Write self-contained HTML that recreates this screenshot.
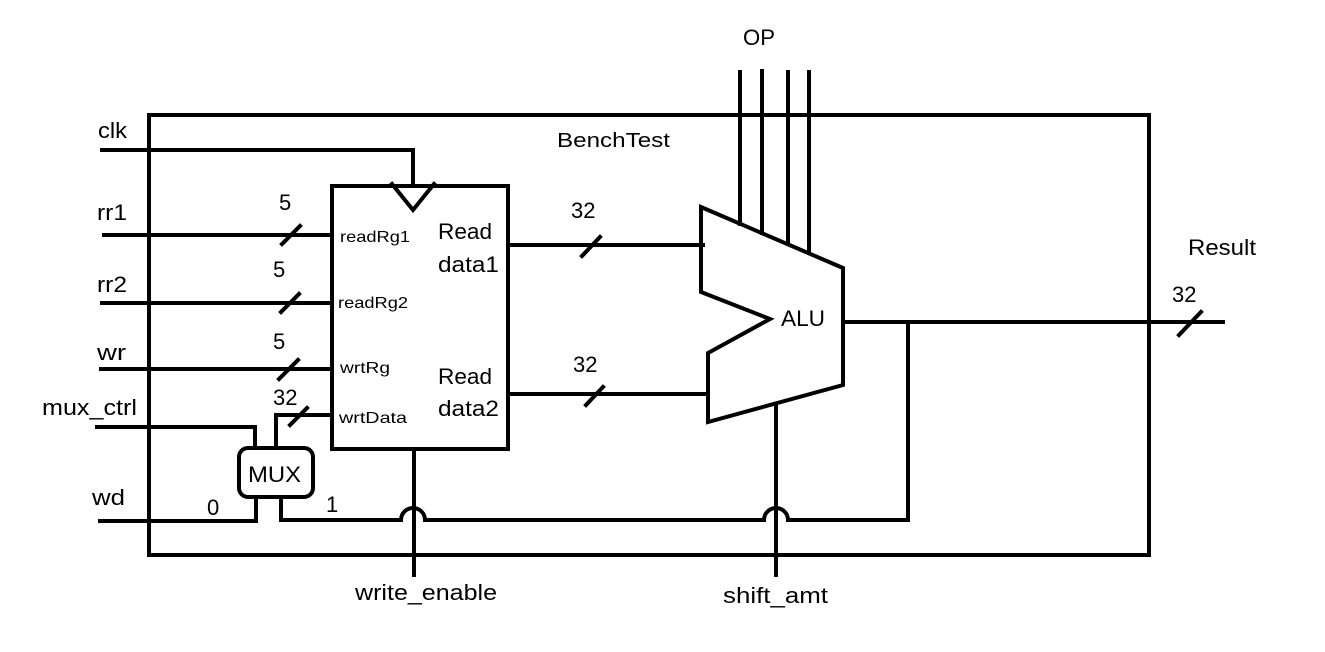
<!DOCTYPE html>
<html><head><meta charset="utf-8"><style>
html,body{margin:0;padding:0;background:#fff;}
svg{display:block;}
text{font-family:"Liberation Sans",sans-serif;fill:#000;}
</style></head><body>
<svg width="1325" height="652" viewBox="0 0 1325 652" xmlns="http://www.w3.org/2000/svg">
<g fill="none" stroke="#000" stroke-width="4" stroke-linecap="square" stroke-linejoin="miter">
<rect x="149" y="115" width="1000" height="440"/>
<rect x="332" y="186" width="176" height="263"/>
<polyline points="102,150 413,150 413,186"/>
<polyline points="392,184 413,210 434,184"/>
<line x1="104" y1="235" x2="332" y2="235"/>
<line x1="102" y1="303" x2="332" y2="303"/>
<line x1="101" y1="369" x2="332" y2="369"/>
<polyline points="276,447 276,415 332,415"/>
<polyline points="97,427 255,427 255,448"/>
<polyline points="100,521 256,521 256,498"/>
<line x1="282" y1="244" x2="300" y2="226"/>
<line x1="281" y1="312" x2="299" y2="294"/>
<line x1="279" y1="379" x2="298" y2="360"/>
<line x1="290" y1="425" x2="307" y2="408"/>
<line x1="582" y1="256" x2="600" y2="237"/>
<line x1="586" y1="405" x2="603" y2="387"/>
<line x1="1179" y1="335" x2="1201" y2="312"/>
<rect x="239" y="448" width="74" height="49" rx="9"/>
<path d="M281,498 L281,520 L401,520 A12,12 0 0 1 425,520 L764,520 A12,12 0 0 1 788,520 L908,520 L908,322"/>
<line x1="414" y1="449" x2="414" y2="575"/>
<line x1="776" y1="406" x2="776" y2="575"/>
<line x1="508" y1="245" x2="703" y2="245"/>
<line x1="508" y1="394" x2="708" y2="394"/>
<polygon points="701,207 843,268 843,385 708,422 708,353 770,319 701,292"/>
<line x1="843" y1="322" x2="1223" y2="322"/>
<line x1="740" y1="72" x2="740" y2="224"/>
<line x1="762" y1="71" x2="762" y2="233"/>
<line x1="788" y1="72" x2="788" y2="244"/>
<line x1="809" y1="72" x2="809" y2="253"/>
</g>
<g font-size="22">
<text x="98" y="138" textLength="29" lengthAdjust="spacingAndGlyphs">clk</text>
<text x="97" y="220" textLength="30" lengthAdjust="spacingAndGlyphs">rr1</text>
<text x="97" y="292" textLength="30" lengthAdjust="spacingAndGlyphs">rr2</text>
<text x="97" y="360" textLength="29" lengthAdjust="spacingAndGlyphs">wr</text>
<text x="42" y="415" textLength="95" lengthAdjust="spacingAndGlyphs">mux_ctrl</text>
<text x="92" y="505" textLength="33" lengthAdjust="spacingAndGlyphs">wd</text>
<text x="279" y="210">5</text>
<text x="273" y="277">5</text>
<text x="273" y="349">5</text>
<text x="273" y="405">32</text>
<text x="207" y="515">0</text>
<text x="326" y="512">1</text>
<text x="743" y="45" textLength="32" lengthAdjust="spacingAndGlyphs">OP</text>
<text x="571" y="218">32</text>
<text x="573" y="372">32</text>
<text x="1188" y="255" textLength="68" lengthAdjust="spacingAndGlyphs">Result</text>
<text x="1172" y="302">32</text>
<text x="781" y="326" textLength="44" lengthAdjust="spacingAndGlyphs">ALU</text>
<text x="248" y="482" textLength="53" lengthAdjust="spacingAndGlyphs">MUX</text>
<text x="438" y="239" textLength="54" lengthAdjust="spacingAndGlyphs">Read</text>
<text x="438" y="272" textLength="61" lengthAdjust="spacingAndGlyphs">data1</text>
<text x="438" y="384" textLength="54" lengthAdjust="spacingAndGlyphs">Read</text>
<text x="438" y="416" textLength="61" lengthAdjust="spacingAndGlyphs">data2</text>
<text x="355" y="600" textLength="142" lengthAdjust="spacingAndGlyphs">write_enable</text>
<text x="723" y="603" textLength="105" lengthAdjust="spacingAndGlyphs">shift_amt</text>
</g>
<text x="557" y="147" font-size="20" textLength="113" lengthAdjust="spacingAndGlyphs">BenchTest</text>
<g font-size="16">
<text x="340" y="242" textLength="70" lengthAdjust="spacingAndGlyphs">readRg1</text>
<text x="338" y="308" textLength="70" lengthAdjust="spacingAndGlyphs">readRg2</text>
<text x="340" y="373" textLength="50" lengthAdjust="spacingAndGlyphs">wrtRg</text>
<text x="339" y="423" textLength="68" lengthAdjust="spacingAndGlyphs">wrtData</text>
</g>
</svg>
</body></html>
